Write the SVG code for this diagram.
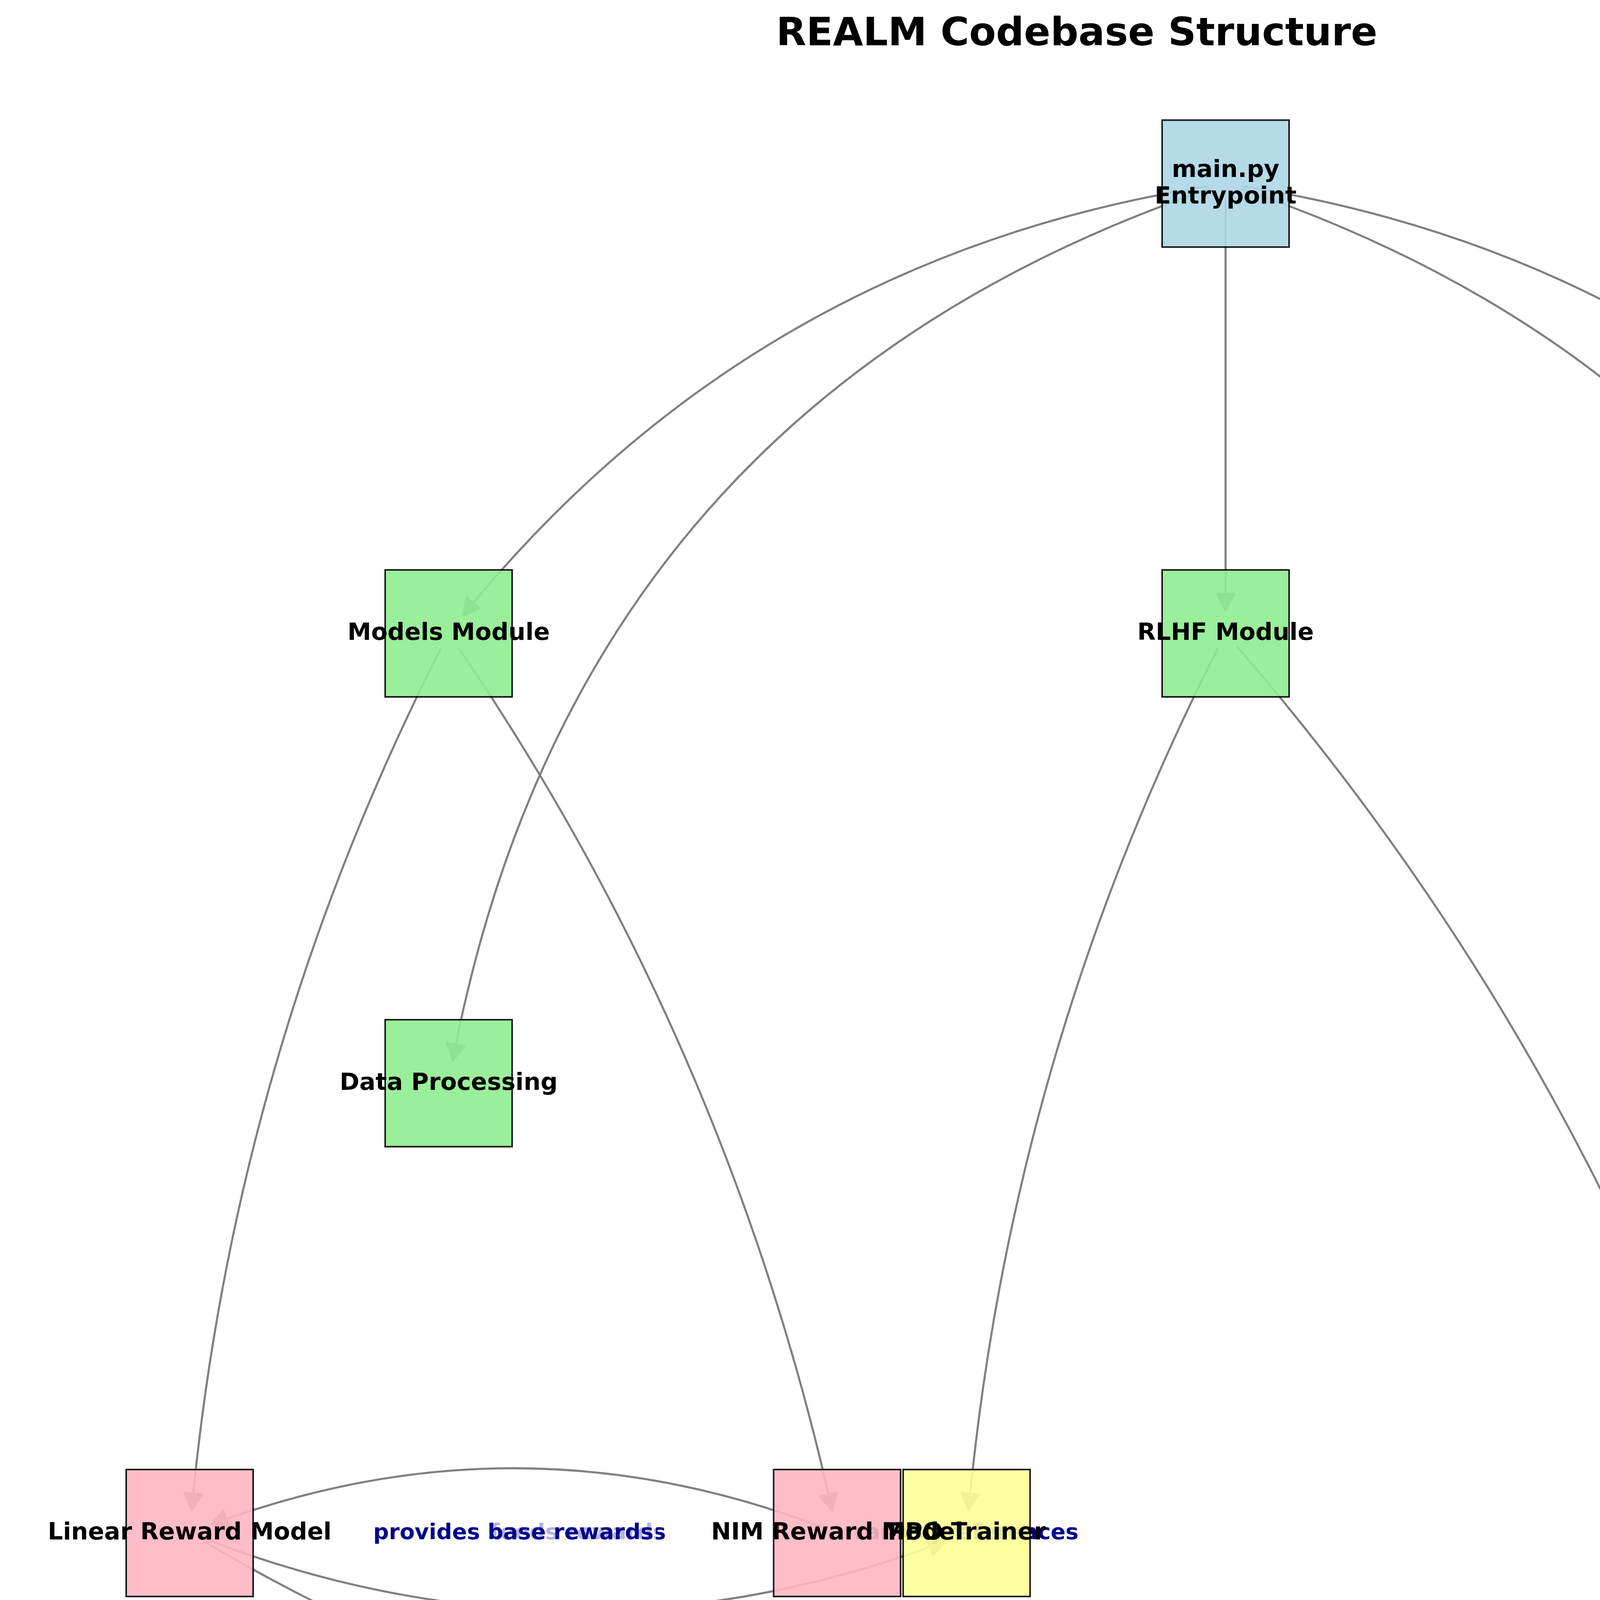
<svg xmlns="http://www.w3.org/2000/svg" width="5513" height="4713" viewBox="0 0 5513 4713">
<style>
.edge{fill:none;stroke:#808080;stroke-width:5.3;stroke-linecap:round;marker-end:url(#ah)}
.box{stroke:#000;stroke-width:4;opacity:0.9}
.nl{font-family:'DejaVu Sans',sans-serif;font-weight:bold;font-size:61px;fill:#000;text-anchor:middle}
.el{font-family:'DejaVu Sans',sans-serif;font-weight:bold;font-size:56px;fill:#00008B;text-anchor:middle}
.title{font-family:'DejaVu Sans',sans-serif;font-weight:bold;font-size:100px;fill:#000;text-anchor:middle}
</style>
<defs>
<marker id="ah" viewBox="-50 -30 56 60" refX="0" refY="0" markerWidth="56" markerHeight="60" markerUnits="userSpaceOnUse" orient="auto">
<path d="M0,0 L-42,-22.5 L-42,22.5 Z" fill="#808080" stroke="#808080" stroke-width="5.3" stroke-linejoin="round"/>
</marker>
</defs>
<rect width="5513" height="4713" fill="#fff"/>
<text class="title" x="2756.5" y="116">REALM Codebase Structure</text>
<g id="edges">
<path class="edge" d="M3092.1,476.9 Q1927.5,661.4 1185.2,1575.5"/>
<path class="edge" d="M3094,484.6 Q1475.9,1038 1159,2715.2"/>
<path class="edge" d="M3137.5,516 L3137.5,1562.5"/>
<path class="edge" d="M3182.9,476.9 Q4347.5,661.4 5089.8,1575.5"/>
<path class="edge" d="M3181,484.6 Q4799.1,1038 5116,2715.2"/>
<path class="edge" d="M1127.5,1662.4 Q598.2,2703.4 490.7,3865.8"/>
<path class="edge" d="M1174.5,1659.4 Q1864.3,2671.7 2130.4,3866.9"/>
<path class="edge" d="M3116.5,1662.4 Q2587.2,2703.4 2479.7,3865.8"/>
<path class="edge" d="M3167.7,1656.2 Q4018.9,2639.9 4444.4,3868.7"/>
<path class="edge" d="M2100.3,3907.9 Q1320.3,3611.9 540.3,3903.3"/>
<path class="edge" d="M528.2,3941.2 Q1474,4303.3 2419.7,3945.8"/>
<path class="edge" d="M524.9,3947.9 Q2468.9,5091.2 4412.9,3954.5"/>
</g>
<g id="edge-labels">
<text class="el" x="2474.5" y="3940">ranks preferences</text>
<text class="el" x="1480" y="3940">feeds rewards</text>
<rect x="957" y="3895" width="722" height="60" fill="#fff" opacity="0.7"/>
<text class="el" x="1314.25" y="3940">provides base rewards</text>
</g>
<g id="nodes">
<g id="node-main"><rect class="box" x="2975" y="307.5" width="325" height="325" fill="#ADD8E6"/></g>
<g id="node-models"><rect class="box" x="986" y="1459" width="325" height="325" fill="#90EE90"/></g>
<g id="node-rlhf"><rect class="box" x="2975" y="1459" width="325" height="325" fill="#90EE90"/></g>
<g id="node-training"><rect class="box" x="4964" y="1459" width="325" height="325" fill="#90EE90"/></g>
<g id="node-data"><rect class="box" x="986" y="2610.5" width="325" height="325" fill="#90EE90"/></g>
<g id="node-inference"><rect class="box" x="4964" y="2610.5" width="325" height="325" fill="#90EE90"/></g>
<g id="node-linear"><rect class="box" x="323" y="3762" width="325" height="325" fill="#FFB6C1"/></g>
<g id="node-nim"><rect class="box" x="1980.5" y="3762" width="325" height="325" fill="#FFB6C1"/></g>
<g id="node-ppo"><rect class="box" x="2312" y="3762" width="325" height="325" fill="#FFFF99"/></g>
<g id="node-dpo"><rect class="box" x="4301" y="3762" width="325" height="325" fill="#FFFF99"/></g>
</g>
<g id="node-labels">
<text class="nl" x="3137.5" y="452.6">main.py</text>
<text class="nl" x="3137.5" y="521">Entrypoint</text>
<text class="nl" x="1148.5" y="1638.3">Models Module</text>
<text class="nl" x="3137.5" y="1638.3">RLHF Module</text>
<text class="nl" x="5126.5" y="1638.3">Training Module</text>
<text class="nl" x="1148.5" y="2789.8">Data Processing</text>
<text class="nl" x="5126.5" y="2789.8">Inference Module</text>
<text class="nl" x="485.5" y="3941.3">Linear Reward Model</text>
<text class="nl" x="2143" y="3941.3">NIM Reward Model</text>
<text class="nl" x="2474.5" y="3941.3">PPO Trainer</text>
<text class="nl" x="4463.5" y="3941.3">DPO Trainer</text>
</g>
</svg>
